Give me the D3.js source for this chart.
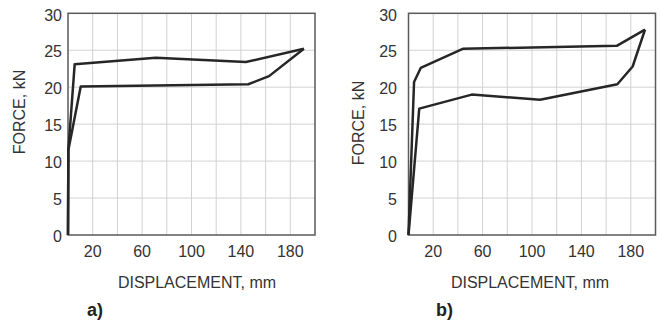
<!DOCTYPE html>
<html>
<head>
<meta charset="utf-8">
<script src="https://cdn.jsdelivr.net/npm/d3@7"></script>
<style>
  body { margin: 0; background: #fff; }
  svg { display: block; font-family: Arial, "Liberation Sans", sans-serif; }
</style>
</head>
<body>
<div id="chart"></div>
<script>
// displacement (mm), force (kN)
const loadA   = [[0, 0], [0.3, 11.5], [5.4, 23.1], [71, 24.0], [144, 23.4], [191, 25.2]];
const unloadA = [[191, 25.2], [162.8, 21.5], [146, 20.4], [10.3, 20.1], [0.3, 11.5], [0, 0]];
const loadB   = [[0, 0], [4.5, 20.7], [9.9, 22.6], [43.9, 25.2], [168.6, 25.6], [191.5, 27.8]];
const unloadB = [[191.5, 27.8], [181.5, 22.8], [169.1, 20.4], [106.5, 18.3], [51.2, 19.0], [8.7, 17.1], [0, 0]];

const xGrid = [20, 40, 60, 80, 100, 120, 140, 160, 180];
const xTickLabels = [20, 60, 100, 140, 180];
const yTicks = [0, 5, 10, 15, 20, 25, 30];
const xLabel = "DISPLACEMENT, mm";
const yLabel = "FORCE, kN";

const width = 661, height = 323;

const svg = d3.select("#chart").append("svg")
    .attr("width", width)
    .attr("height", height);

const panels = [
    { name: "a)", load: loadA, unload: unloadA, left: 68, top: 13.3, yLabX: 25, yLabY: 112, yTickX: 62, xLabX: 197, nameX: 87 },
    { name: "b)", load: loadB, unload: unloadB, left: 408.5, top: 13.3, yLabX: 364, yLabY: 123, yTickX: 397, xLabX: 530, nameX: 436 }
];

const plotW = 247, plotH = 221.7;

panels.forEach(p => {
    const x = d3.scaleLinear().domain([0, 200]).range([p.left, p.left + plotW]);
    const y = d3.scaleLinear().domain([0, 30]).range([p.top + plotH, p.top]);
    const g = svg.append("g");

    // grid
    g.append("g").selectAll("line").data(xGrid).join("line")
        .attr("x1", d => x(d)).attr("x2", d => x(d))
        .attr("y1", y(0)).attr("y2", y(30))
        .attr("stroke", "#d2d2d2").attr("stroke-width", 1);
    g.append("g").selectAll("line").data(yTicks.slice(1, -1)).join("line")
        .attr("x1", x(0)).attr("x2", x(200))
        .attr("y1", d => y(d)).attr("y2", d => y(d))
        .attr("stroke", "#d2d2d2").attr("stroke-width", 1);

    // frame
    g.append("rect")
        .attr("x", x(0)).attr("y", y(30))
        .attr("width", x(200) - x(0)).attr("height", y(0) - y(30))
        .attr("fill", "none").attr("stroke", "#5a5a5a").attr("stroke-width", 1.5);

    // tick labels
    g.append("g").selectAll("text").data(yTicks).join("text")
        .attr("x", p.yTickX).attr("y", d => y(d))
        .attr("dy", "0.45em")
        .attr("text-anchor", "end")
        .attr("font-size", 16).attr("fill", "#333")
        .text(d => d);
    g.append("g").selectAll("text").data(xTickLabels).join("text")
        .attr("x", d => x(d)).attr("y", 256.7)
        .attr("text-anchor", "middle")
        .attr("font-size", 16).attr("fill", "#333")
        .text(d => d);

    // axis titles
    g.append("text")
        .attr("transform", "translate(" + p.yLabX + "," + p.yLabY + ") rotate(-90)")
        .attr("text-anchor", "middle")
        .attr("font-size", 16).attr("fill", "#333")
        .text(yLabel);
    g.append("text")
        .attr("x", p.xLabX).attr("y", 288.3)
        .attr("text-anchor", "middle")
        .attr("font-size", 16).attr("fill", "#333")
        .text(xLabel);
    g.append("text")
        .attr("x", p.nameX).attr("y", 316)
        .attr("font-size", 18).attr("font-weight", "bold").attr("fill", "#222")
        .text(p.name);

    // curves
    const line = d3.line().x(d => x(d[0])).y(d => y(d[1]));
    [p.load, p.unload].forEach(data => {
        g.append("path")
            .attr("d", line(data))
            .attr("fill", "none")
            .attr("stroke", "#262626")
            .attr("stroke-width", 2.5)
            .attr("stroke-linejoin", "round");
    });
});
</script>
</body>
</html>
